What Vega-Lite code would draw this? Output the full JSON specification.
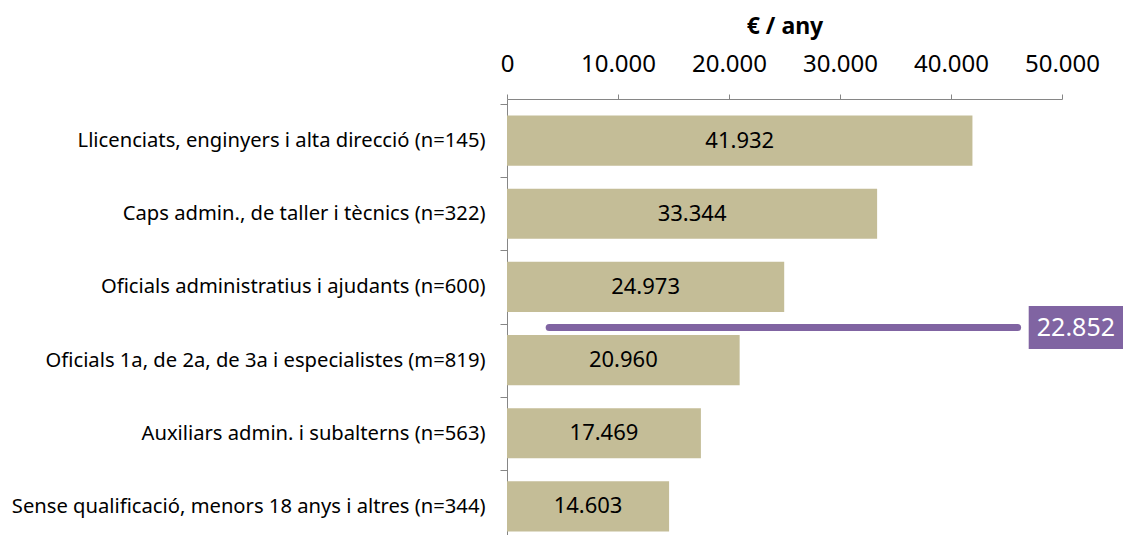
{
  "$schema": "https://vega.github.io/schema/vega-lite/v6.json",
  "width": 555,
  "height": 436,
  "autosize": {"type": "none"},
  "padding": {"left": 507, "top": 99, "right": 61, "bottom": 0},
  "config": {
    "view": {"stroke": null},
    "font": "Noto Sans",
    "locale": {"number": {"decimal": ",", "thousands": ".", "grouping": [3], "currency": ["", " €"]}}
  },
  "datasets": {
    "bars": [
      {"categoria": "Llicenciats, enginyers i alta direcció (n=145)", "sou": 41932},
      {"categoria": "Caps admin., de taller i tècnics (n=322)", "sou": 33344},
      {"categoria": "Oficials administratius i ajudants (n=600)", "sou": 24973},
      {"categoria": "Oficials 1a, de 2a, de 3a i especialistes (m=819)", "sou": 20960},
      {"categoria": "Auxiliars admin. i subalterns (n=563)", "sou": 17469},
      {"categoria": "Sense qualificació, menors 18 anys i altres (n=344)", "sou": 14603}
    ],
    "mitjana": [
      {"categoria": "Oficials administratius i ajudants (n=600)", "mitjana": 22852, "inici": 3800, "final": 46000, "caixaInici": 47000, "caixaFinal": 55500, "etiquetaX": 51250}
    ]
  },
  "layer": [
    {
      "data": {"name": "bars"},
      "mark": {"type": "bar", "color": "#C4BD97", "height": {"band": 0.685}},
      "encoding": {
        "y": {
          "field": "categoria", "type": "nominal", "sort": null,
          "scale": {"paddingInner": 0, "paddingOuter": 0.068, "range": [0, 449]},
          "axis": {
            "title": null, "orient": "left", "tickBand": "extent",
            "domainColor": "#868686", "tickColor": "#868686", "tickSize": 7,
            "labelFontSize": 20.2, "labelColor": "#000000", "labelPadding": 15,
            "labelLimit": 700, "grid": false
          }
        },
        "x": {
          "field": "sou", "type": "quantitative",
          "scale": {"domain": [0, 50000], "nice": false},
          "axis": {
            "orient": "top", "values": [0, 10000, 20000, 30000, 40000, 50000],
            "format": ",d", "labelFontSize": 24, "labelColor": "#000000",
            "tickSize": 5, "tickColor": "#868686", "domainColor": "#868686",
            "labelPadding": 18, "labelFlush": false, "grid": false,
            "title": "€ / any", "titleFontSize": 23, "titleFontWeight": "bold",
            "titleColor": "#000000", "titlePadding": 14
          }
        }
      }
    },
    {
      "data": {"name": "bars"},
      "mark": {"type": "text", "fontSize": 22, "color": "#000000", "baseline": "middle", "align": "center"},
      "encoding": {
        "y": {"field": "categoria", "type": "nominal", "sort": null},
        "x": {"field": "sou", "type": "quantitative", "scale": {"domain": [0, 100000], "nice": false}, "axis": null},
        "text": {"field": "sou", "type": "quantitative", "format": ",d"}
      }
    },
    {
      "data": {"name": "mitjana"},
      "layer": [
        {
          "mark": {"type": "rule", "color": "#8064A2", "strokeWidth": 7, "strokeCap": "round", "yOffset": 40.6},
          "encoding": {
            "y": {"field": "categoria", "type": "nominal", "sort": null},
            "x": {"field": "inici", "type": "quantitative", "scale": {"domain": [0, 50000], "nice": false}, "axis": null},
            "x2": {"field": "final"}
          }
        },
        {
          "mark": {"type": "bar", "color": "#8064A2", "height": 43, "yOffset": 40.6},
          "encoding": {
            "y": {"field": "categoria", "type": "nominal", "sort": null},
            "x": {"field": "caixaInici", "type": "quantitative", "scale": {"domain": [0, 50000], "nice": false}, "axis": null},
            "x2": {"field": "caixaFinal"}
          }
        },
        {
          "mark": {"type": "text", "color": "#FFFFFF", "fontSize": 25, "baseline": "middle", "align": "center", "yOffset": 40.6},
          "encoding": {
            "y": {"field": "categoria", "type": "nominal", "sort": null},
            "x": {"field": "etiquetaX", "type": "quantitative", "scale": {"domain": [0, 50000], "nice": false}, "axis": null},
            "text": {"field": "mitjana", "type": "quantitative", "format": ",d"}
          }
        }
      ]
    }
  ],
  "resolve": {"scale": {"x": "independent"}}
}
